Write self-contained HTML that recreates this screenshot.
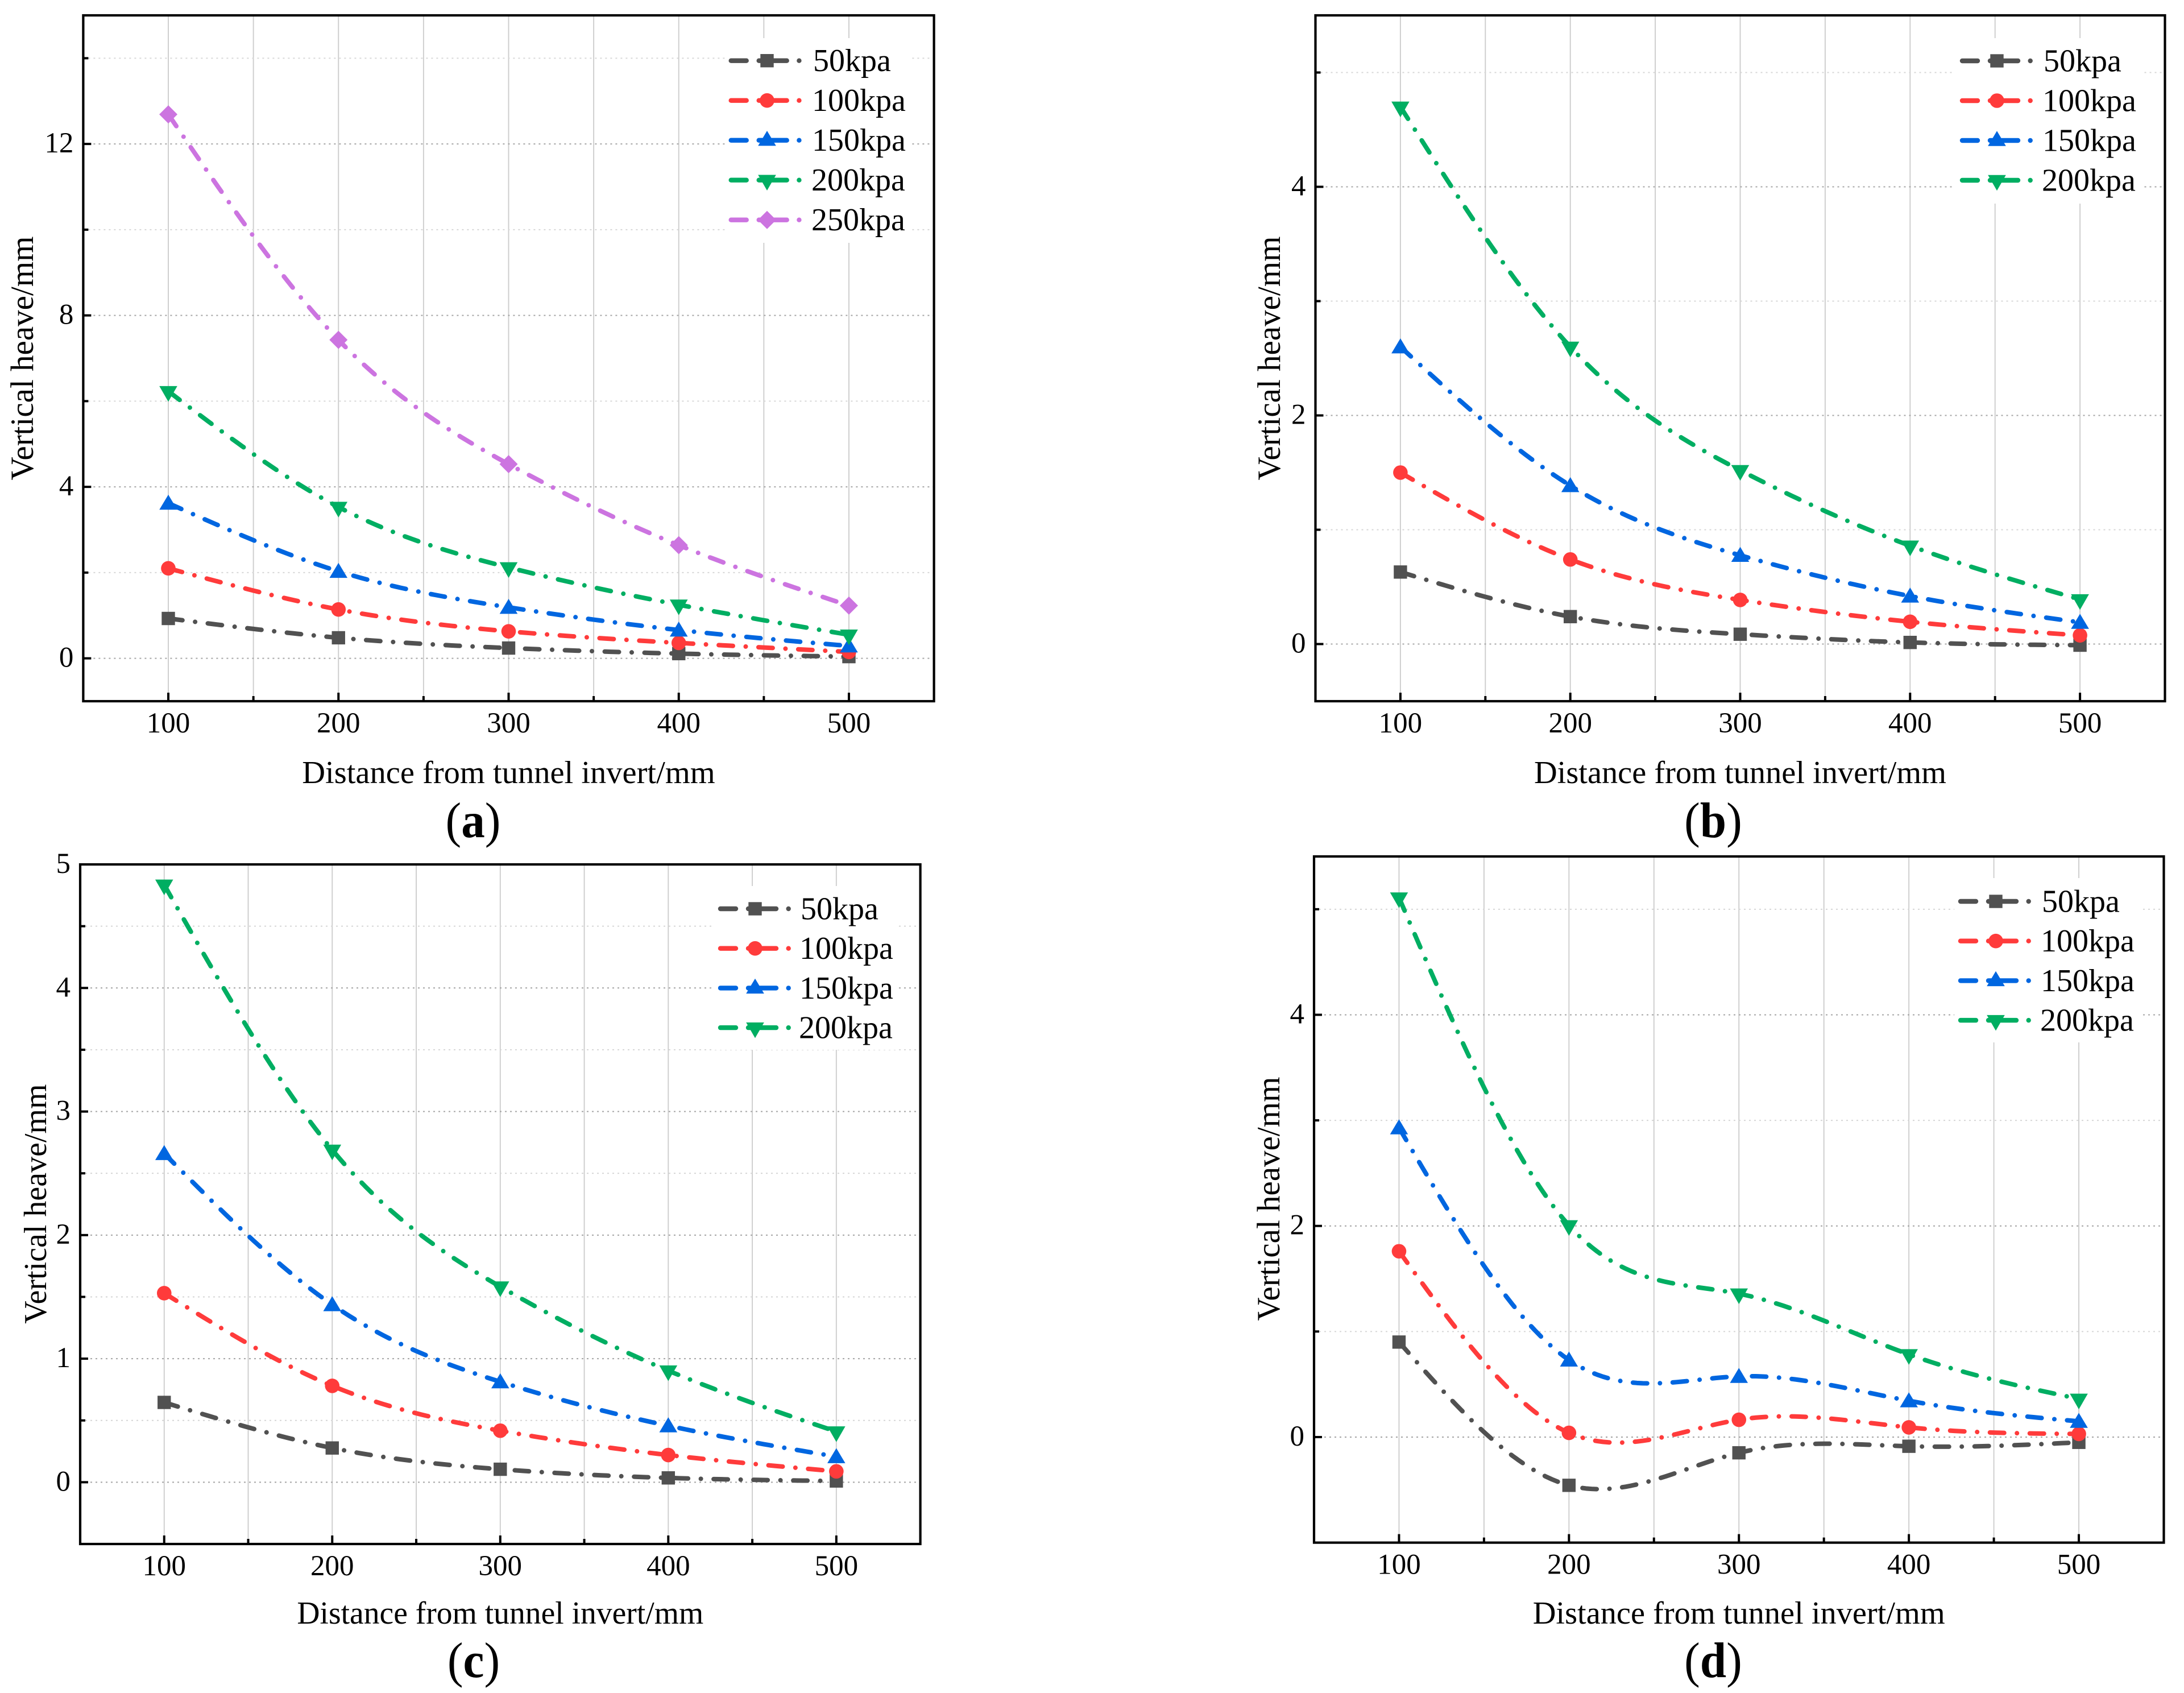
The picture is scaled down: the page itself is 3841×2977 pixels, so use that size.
<!DOCTYPE html>
<html lang="en">
<head>
<meta charset="utf-8">
<title>Vertical heave versus distance from tunnel invert</title>
<style>
html,body{margin:0;padding:0;background:#fff;}
svg{display:block;font-family:"Liberation Serif","Times New Roman",serif;}
</style>
</head>
<body>
<svg id="figure" xmlns="http://www.w3.org/2000/svg" width="3841" height="2977" viewBox="0 0 3841 2977"></svg>
<script>
// ---------- Data ----------
const xCategories = [100, 200, 300, 400, 500];
const xMajorTicks = [100, 200, 300, 400, 500];
const xMinorTicks = [150, 250, 350, 450];

const seriesLabels = ['50kpa', '100kpa', '150kpa', '200kpa', '250kpa'];

const panelA50 = [0.93, 0.48, 0.24, 0.11, 0.04];
const panelA100 = [2.10, 1.14, 0.63, 0.36, 0.15];
const panelA150 = [3.62, 2.03, 1.19, 0.66, 0.29];
const panelA200 = [6.23, 3.53, 2.12, 1.25, 0.55];
const panelA250 = [12.69, 7.43, 4.53, 2.64, 1.23];
const panelAMajor = [0, 4, 8, 12];
const panelAMinor = [2, 6, 10, 14];

const panelB50 = [0.63, 0.24, 0.086, 0.014, -0.01];
const panelB100 = [1.50, 0.74, 0.386, 0.195, 0.076];
const panelB150 = [2.60, 1.386, 0.776, 0.42, 0.19];
const panelB200 = [4.70, 2.60, 1.52, 0.86, 0.39];
const panelBMajor = [0, 2, 4];
const panelBMinor = [1, 3, 5];

const panelC50 = [0.646, 0.277, 0.105, 0.035, 0.01];
const panelC100 = [1.53, 0.78, 0.417, 0.22, 0.088];
const panelC150 = [2.66, 1.437, 0.813, 0.457, 0.207];
const panelC200 = [4.835, 2.69, 1.583, 0.903, 0.41];
const panelCMajor = [0, 1, 2, 3, 4, 5];
const panelCMinor = [0.5, 1.5, 2.5, 3.5, 4.5];

const panelD50 = [0.90, -0.457, -0.149, -0.087, -0.05];
const panelD100 = [1.76, 0.04, 0.164, 0.092, 0.03];
const panelD150 = [2.93, 0.73, 0.575, 0.344, 0.149];
const panelD200 = [5.11, 2.005, 1.358, 0.783, 0.362];
const panelDMajor = [0, 2, 4];
const panelDMinor = [1, 3, 5];

// ---------- Styling and layout ----------
const seriesColors = ['#515151', '#ff3b3b', '#0066e0', '#00ae62', '#cc74e0'];
const markerKinds = ['square', 'circle', 'up', 'down', 'diamond'];
const SVG_NS = 'http://www.w3.org/2000/svg';
const root = document.getElementById('figure');

const panels = [
  {id:'a', series:[panelA50,panelA100,panelA150,panelA200,panelA250], major:panelAMajor, minor:panelAMinor,
   left:146.4, right:1642.6, top:27, bottom:1233, yMin:-1, yMax:15,
   xTitleFont:56.5, xTitleBase:1377, yTitleX:58, yTitleCy:630, yTitleFont:57,
   tag:[832,1472], legendBox:[1275,67,327,360], lineX:1281.7, markX:1349, textX:1430, rowY:106.7, rowGap:70},
  {id:'b', series:[panelB50,panelB100,panelB150,panelB200], major:panelBMajor, minor:panelBMinor,
   left:2313.5, right:3807.5, top:27, bottom:1233, yMin:-0.5, yMax:5.5,
   xTitleFont:56.4, xTitleBase:1377, yTitleX:2251, yTitleCy:630, yTitleFont:57,
   tag:[3013,1472], legendBox:[3438,67,332,291], lineX:3447, markX:3512, textX:3594, rowY:107, rowGap:70},
  {id:'c', series:[panelC50,panelC100,panelC150,panelC200], major:panelCMajor, minor:panelCMinor,
   left:141, right:1618.6, top:1520, bottom:2715, yMin:-0.5, yMax:5,
   xTitleFont:55.6, xTitleBase:2855, yTitleX:81, yTitleCy:2117, yTitleFont:56,
   tag:[833,2949], legendBox:[1257,1558,320,288], lineX:1263, markX:1328, textX:1408, rowY:1598, rowGap:69.7},
  {id:'d', series:[panelD50,panelD100,panelD150,panelD200], major:panelDMajor, minor:panelDMinor,
   left:2311, right:3805.5, top:1506, bottom:2712.6, yMin:-1, yMax:5.5,
   xTitleFont:56.4, xTitleBase:2855, yTitleX:2250, yTitleCy:2108, yTitleFont:57,
   tag:[3013,2949], legendBox:[3437,1544,329,289], lineX:3444, markX:3510, textX:3591, rowY:1585, rowGap:69.7}
];

function make(parent, tag, attrs, text) {
  const el = document.createElementNS(SVG_NS, tag);
  for (const k in attrs) el.setAttribute(k, attrs[k]);
  if (text !== undefined) el.textContent = text;
  parent.appendChild(el);
  return el;
}

// Natural cubic spline through the data, returned as an SVG path
function splinePath(xs, ys) {
  const n = xs.length;
  const a = new Array(n).fill(0), b = new Array(n).fill(1), c = new Array(n).fill(0), d = new Array(n).fill(0);
  for (let i = 1; i < n - 1; i++) {
    const h0 = xs[i] - xs[i - 1], h1 = xs[i + 1] - xs[i];
    a[i] = h0; b[i] = 2 * (h0 + h1); c[i] = h1;
    d[i] = 6 * ((ys[i + 1] - ys[i]) / h1 - (ys[i] - ys[i - 1]) / h0);
  }
  for (let i = 1; i < n; i++) {
    const m = a[i] / b[i - 1];
    b[i] -= m * c[i - 1];
    d[i] -= m * d[i - 1];
  }
  const s = new Array(n).fill(0);
  s[n - 1] = d[n - 1] / b[n - 1];
  for (let i = n - 2; i >= 0; i--) s[i] = (d[i] - c[i] * s[i + 1]) / b[i];
  let path = 'M' + xs[0].toFixed(2) + ' ' + ys[0].toFixed(2);
  const steps = 30;
  for (let i = 0; i < n - 1; i++) {
    const h = xs[i + 1] - xs[i];
    for (let j = 1; j <= steps; j++) {
      const t = j / steps, u = 1 - t;
      const y = u * ys[i] + t * ys[i + 1] + ((u * u * u - u) * s[i] + (t * t * t - t) * s[i + 1]) * h * h / 6;
      path += 'L' + (xs[i] + t * h).toFixed(2) + ' ' + y.toFixed(2);
    }
  }
  return path;
}

function drawMarker(parent, kind, cx, cy, color, name, upShift) {
  let el;
  if (kind === 'square') {
    el = make(parent, 'rect', {x:cx - 11.7, y:cy - 11.7, width:23.4, height:23.4, fill:color});
  } else if (kind === 'circle') {
    el = make(parent, 'circle', {cx:cx, cy:cy, r:12.8, fill:color});
  } else if (kind === 'up') {
    const o = upShift || 0;
    el = make(parent, 'polygon', {points:[cx, cy - 16.7 + o, cx + 15.8, cy + 9.7 + o, cx - 15.8, cy + 9.7 + o].join(' '), fill:color});
  } else if (kind === 'down') {
    el = make(parent, 'polygon', {points:[cx, cy + 18.3, cx + 15.8, cy - 9.2, cx - 15.8, cy - 9.2].join(' '), fill:color});
  } else {
    el = make(parent, 'polygon', {points:[cx, cy - 16, cx + 16, cy, cx, cy + 16, cx - 16, cy].join(' '), fill:color});
  }
  
  
}

function drawPanel(p) {
  const sx = v => p.left + (v - 50) * (p.right - p.left) / 500;
  const sy = v => p.bottom - (v - p.yMin) * (p.bottom - p.top) / (p.yMax - p.yMin);

  const g = make(root, 'g', {});
  
  

  // gridlines
  xMajorTicks.concat(xMinorTicks).forEach(v => {
    const grid = make(g, 'line', {x1:sx(v), x2:sx(v), y1:p.top, y2:p.bottom, stroke:'#cdcdcd', 'stroke-width':1.9});
    
    
  });
  p.minor.forEach(v => {
    const grid = make(g, 'line', {x1:p.left, x2:p.right, y1:sy(v), y2:sy(v), stroke:'#d6d6d6', 'stroke-width':2, 'stroke-dasharray':'3 6'});
    
    
  });
  p.major.forEach(v => {
    const grid = make(g, 'line', {x1:p.left, x2:p.right, y1:sy(v), y2:sy(v), stroke:'#a4a4a4', 'stroke-width':2, 'stroke-dasharray':'3 6'});
    
    
  });

  // legend backdrop hides the gridlines
  const box = make(g, 'rect', {x:p.legendBox[0], y:p.legendBox[1], width:p.legendBox[2], height:p.legendBox[3], fill:'#fff'});
  
  

  // series
  const xsPx = xCategories.map(sx);
  p.series.forEach((vals, i) => {
    const line = make(g, 'path', {d:splinePath(xsPx, vals.map(sy)), fill:'none', stroke:seriesColors[i], 'stroke-width':8,
      'stroke-linecap':'round', 'stroke-linejoin':'round', 'stroke-dasharray':'25 22.5 0.01 22.5'});
    
    
    vals.forEach((v, j) => {
      drawMarker(g, markerKinds[i], sx(xCategories[j]), sy(v), seriesColors[i], 'point-' + seriesLabels[i] + '-' + xCategories[j], 1.8);
    });
  });

  // frame
  const frame = make(g, 'rect', {x:p.left, y:p.top, width:p.right - p.left, height:p.bottom - p.top, fill:'none', stroke:'#000', 'stroke-width':4.2});
  
  

  // x ticks and labels
  xMajorTicks.forEach(v => {
    const tick = make(g, 'line', {x1:sx(v), x2:sx(v), y1:p.bottom, y2:p.bottom - 15, stroke:'#000', 'stroke-width':4});
    
    
    const label = make(g, 'text', {x:sx(v), y:p.bottom + 55, 'font-size':51, 'text-anchor':'middle', fill:'#000'}, String(v));
    
    
  });
  xMinorTicks.forEach(v => {
    const tick = make(g, 'line', {x1:sx(v), x2:sx(v), y1:p.bottom, y2:p.bottom - 9, stroke:'#000', 'stroke-width':4});
    
    
  });

  // y ticks and labels
  p.major.forEach(v => {
    const tick = make(g, 'line', {x1:p.left, x2:p.left + 14, y1:sy(v), y2:sy(v), stroke:'#000', 'stroke-width':4});
    
    
    const label = make(g, 'text', {x:p.left - 17, y:sy(v) + 15, 'font-size':51, 'text-anchor':'end', fill:'#000'}, String(v));
    
    
  });
  p.minor.forEach(v => {
    const tick = make(g, 'line', {x1:p.left, x2:p.left + 9, y1:sy(v), y2:sy(v), stroke:'#000', 'stroke-width':4});
    
    
  });

  // axis titles
  const xTitle = make(g, 'text', {x:(p.left + p.right) / 2, y:p.xTitleBase, 'font-size':p.xTitleFont, 'text-anchor':'middle', fill:'#000'}, 'Distance from tunnel invert/mm');
  
  
  const yTitle = make(g, 'text', {x:0, y:0, 'font-size':p.yTitleFont, 'text-anchor':'middle', fill:'#000',
    transform:'translate(' + p.yTitleX + ' ' + p.yTitleCy + ') rotate(-90)'}, 'Vertical heave/mm');
  
  

  // legend
  p.series.forEach((vals, i) => {
    const y = p.rowY + i * p.rowGap;
    const entry = make(g, 'g', {});
    
    
    const sample = make(entry, 'line', {x1:p.lineX + 4, x2:p.lineX + 124, y1:y, y2:y, stroke:seriesColors[i], 'stroke-width':8.4,
      'stroke-linecap':'round', 'stroke-dasharray':'27 22 49 21.7 0.01 40'});
    
    
    drawMarker(entry, markerKinds[i], p.markX, y, seriesColors[i], 'legend-marker', 0);
    const label = make(entry, 'text', {x:p.textX - (i === 0 ? 0 : (i < 3 ? 2 : 3)), y:y + 18.5, 'font-size':56, fill:'#000'}, seriesLabels[i]);
    
    
  });

  // panel tag "(a)"
  const tag = make(g, 'text', {x:0, y:0, 'font-size':88, 'text-anchor':'middle', fill:'#000',
    transform:'translate(' + p.tag[0] + ' ' + p.tag[1] + ') scale(0.945 1)'});
  
  
  make(tag, 'tspan', {}, '(');
  make(tag, 'tspan', {'font-weight':'bold'}, p.id);
  make(tag, 'tspan', {}, ')');
}

panels.forEach(drawPanel);
</script>
</body>
</html>
